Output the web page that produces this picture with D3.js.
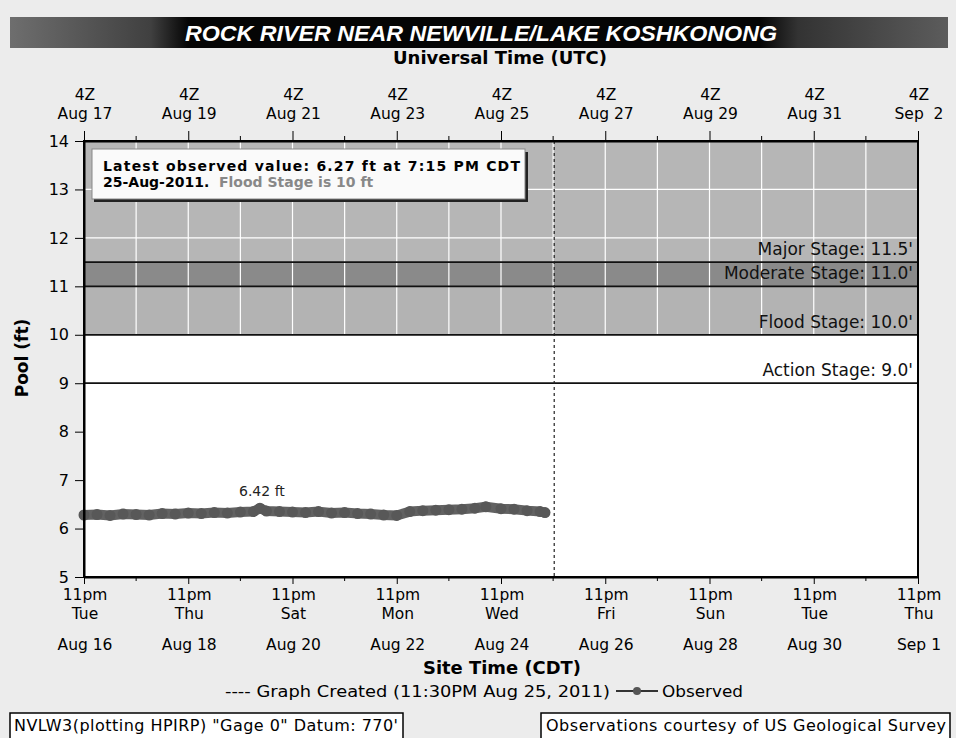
<!DOCTYPE html>
<html>
<head>
<meta charset="utf-8">
<script src="https://cdn.jsdelivr.net/npm/d3@7"></script>
<style>
body { margin: 0; background: #ececec; }
svg { display: block; font-family: 'DejaVu Sans', Verdana, sans-serif; }
</style>
</head>
<body>
<svg id="chart" width="956" height="738"></svg>
<script>
// observed pool (ft), site time CDT
var obsTimes = ['08-16 23:00','08-17 05:00','08-17 11:00','08-17 17:00','08-17 23:00',
	'08-18 05:00','08-18 11:00','08-18 17:00','08-18 23:00','08-19 05:00','08-19 11:00',
	'08-19 17:00','08-19 23:00','08-20 05:00','08-20 08:00','08-20 11:00','08-20 17:00',
	'08-20 23:00','08-21 05:00','08-21 11:00','08-21 17:00','08-21 23:00','08-22 05:00',
	'08-22 11:00','08-22 17:00','08-22 23:00','08-23 05:00','08-23 11:00','08-23 17:00',
	'08-23 23:00','08-24 05:00','08-24 11:00','08-24 16:00','08-24 23:00','08-25 05:00',
	'08-25 11:00','08-25 17:00','08-25 19:15'];
var obsValues = [6.28,6.29,6.27,6.30,6.29,6.28,6.31,6.30,6.32,6.31,6.33,6.32,6.34,6.35,6.42,
	6.36,6.35,6.34,6.33,6.35,6.32,6.33,6.31,6.30,6.28,6.27,6.35,6.37,6.38,6.39,6.40,6.42,
	6.45,6.41,6.40,6.37,6.35,6.33];

var stageLevels = [9, 10, 11, 11.5];
var stageNames = ["Action Stage: 9.0'", "Flood Stage: 10.0'", "Moderate Stage: 11.0'", "Major Stage: 11.5'"];
var bandLow = [10, 11, 11.5];
var bandHigh = [11, 11.5, 14];
var bandFill = ['#b3b3b3', '#8a8a8a', '#b6b6b6'];

var botHour = ['11pm','11pm','11pm','11pm','11pm','11pm','11pm','11pm','11pm'];
var botDay = ['Tue','Thu','Sat','Mon','Wed','Fri','Sun','Tue','Thu'];
var botDate = ['Aug 16','Aug 18','Aug 20','Aug 22','Aug 24','Aug 26','Aug 28','Aug 30','Sep 1'];
var topHour = ['4Z','4Z','4Z','4Z','4Z','4Z','4Z','4Z','4Z'];
var topDate = ['Aug 17','Aug 19','Aug 21','Aug 23','Aug 25','Aug 27','Aug 29','Aug 31','Sep  2'];

var parse = d3.utcParse('%m-%d %H:%M %Y');
var t = function (s) { return parse(s + ' 2011'); };

var x0 = 84, x1 = 918, y0 = 141, y1 = 577;
var start = t('08-16 23:00');
var created = t('08-25 23:30');

var x = d3.scaleUtc().domain([start, t('09-01 23:00')]).range([x0, x1]);
var y = d3.scaleLinear().domain([5, 14]).range([y1, y0]);

var majors = d3.range(9).map(function (i) { return d3.utcDay.offset(start, i*2); });
var days = d3.range(17).map(function (i) { return d3.utcDay.offset(start, i); });
var minors = days.filter(function (d,i) { return i % 2 == 1; });

var svg = d3.select('#chart');

// title bar
var grad = svg.append('defs').append('linearGradient').attr('id', 'tbar');
[[0,'#6e6e6e'],[0.15,'#404040'],[0.19,'#050505'],[0.8,'#050505'],[0.84,'#333'],[1,'#5c5c5c']]
	.forEach(function (s) { grad.append('stop').attr('offset', s[0]).attr('stop-color', s[1]); });
svg.append('rect').attr('x', 10).attr('y', 17).attr('width', 938).attr('height', 31).attr('fill', 'url(#tbar)');
svg.append('text').attr('x', 481).attr('y', 41).attr('text-anchor', 'middle')
	.attr('font-family', "'Liberation Sans', Arial, sans-serif").attr('font-weight', 'bold')
	.attr('font-style', 'italic').attr('font-size', 22).attr('fill', '#fff')
	.attr('textLength', 592).attr('lengthAdjust', 'spacingAndGlyphs')
	.text('ROCK RIVER NEAR NEWVILLE/LAKE KOSHKONONG');
svg.append('text').attr('x', 500).attr('y', 64).attr('text-anchor', 'middle')
	.attr('font-weight', 'bold').attr('font-size', 17)
	.attr('textLength', 214).attr('lengthAdjust', 'spacingAndGlyphs').text('Universal Time (UTC)');

// plot area
svg.append('rect').attr('x', x0).attr('y', y0).attr('width', x1-x0).attr('height', y1-y0).attr('fill', '#fff');

svg.selectAll('.band').data(bandLow).enter().append('rect')
	.attr('x', x0).attr('width', x1-x0)
	.attr('y', function (d,i) { return y(bandHigh[i]); })
	.attr('height', function (d,i) { return y(d) - y(bandHigh[i]); })
	.attr('fill', function (d,i) { return bandFill[i]; });

// white grid inside the shaded zones
svg.selectAll('.vgrid').data(days.slice(1, -1)).enter().append('line')
	.attr('x1', function (d) { return x(d); }).attr('x2', function (d) { return x(d); })
	.attr('y1', y(14)).attr('y2', y(10)).attr('stroke', '#fff').attr('stroke-width', 1.2);
svg.selectAll('.hgrid').data([12, 13]).enter().append('line')
	.attr('x1', x0).attr('x2', x1).attr('y1', function (d) { return y(d); }).attr('y2', function (d) { return y(d); })
	.attr('stroke', '#fff').attr('stroke-width', 1.2);

svg.selectAll('.stage').data(stageLevels).enter().append('line')
	.attr('x1', x0).attr('x2', x1).attr('y1', function (d) { return y(d); }).attr('y2', function (d) { return y(d); })
	.attr('stroke', '#111').attr('stroke-width', 1.8);
svg.selectAll('.stagetext').data(stageLevels).enter().append('text')
	.attr('x', 913).attr('y', function (d) { return y(d) - 7; })
	.attr('text-anchor', 'end').attr('font-size', 17).attr('fill', '#111')
	.text(function (d,i) { return stageNames[i]; });

// latest value box
svg.append('rect').attr('x', 94).attr('y', 152).attr('width', 434).attr('height', 50).attr('fill', '#222');
svg.append('rect').attr('x', 92).attr('y', 149).attr('width', 433).attr('height', 50)
	.attr('fill', '#fafafa').attr('stroke', '#888').attr('stroke-width', 1);
svg.append('text').attr('x', 103).attr('y', 171).attr('font-weight', 'bold').attr('font-size', 14)
	.attr('textLength', 417).attr('lengthAdjust', 'spacing')
	.text('Latest observed value: 6.27 ft at 7:15 PM CDT');
var l2 = svg.append('text').attr('x', 103).attr('y', 187).attr('font-weight', 'bold').attr('font-size', 14)
	.style('white-space', 'pre');
l2.append('tspan').text('25-Aug-2011.  ');
l2.append('tspan').attr('fill', '#888').text('Flood Stage is 10 ft');

// observed series
var line = d3.line().x(function (d,i) { return x(t(obsTimes[i])); }).y(function (d) { return y(d); });
svg.append('path').datum(obsValues).attr('d', line).attr('fill', 'none')
	.attr('stroke', '#626262').attr('stroke-width', 10).attr('stroke-linejoin', 'round').attr('stroke-linecap', 'round');
svg.selectAll('.obs').data(obsValues).enter().append('circle')
	.attr('cx', function (d,i) { return x(t(obsTimes[i])); }).attr('cy', function (d) { return y(d); })
	.attr('r', 5.5).attr('fill', '#585858');
svg.append('text').attr('x', x(t('08-20 08:00')) + 2).attr('y', y(6.42) - 12)
	.attr('text-anchor', 'middle').attr('font-size', 14).attr('fill', '#222').text('6.42 ft');

// graph created marker
svg.append('line').attr('x1', x(created)).attr('x2', x(created)).attr('y1', y0).attr('y2', y1)
	.attr('stroke', '#222').attr('stroke-width', 1.2).attr('stroke-dasharray', '3,3');

svg.append('rect').attr('x', x0).attr('y', y0).attr('width', x1-x0).attr('height', y1-y0)
	.attr('fill', 'none').attr('stroke', '#000').attr('stroke-width', 2);

// axes
var yAxis = svg.append('g').attr('transform', 'translate(' + x0 + ',0)')
	.call(d3.axisLeft(y).tickValues(d3.range(5, 15)).tickSize(9).tickSizeOuter(0).tickPadding(6));
yAxis.selectAll('text').attr('font-size', 16).attr('font-family', "'DejaVu Sans', sans-serif").attr('fill', '#000');

var botAx = svg.append('g').attr('transform', 'translate(0,' + y1 + ')');
botAx.call(d3.axisBottom(x).tickValues(majors).tickSize(7).tickSizeOuter(0).tickFormat(''));
botAx.selectAll('.minor').data(minors).enter().append('line')
	.attr('x1', function (d) { return x(d); }).attr('x2', function (d) { return x(d); })
	.attr('y1', 0).attr('y2', 4).attr('stroke', '#000');

var topAx = svg.append('g').attr('transform', 'translate(0,' + y0 + ')');
topAx.call(d3.axisTop(x).tickValues(majors).tickSize(10).tickSizeOuter(0).tickFormat(''));
topAx.selectAll('.minor').data(minors).enter().append('line')
	.attr('x1', function (d) { return x(d); }).attr('x2', function (d) { return x(d); })
	.attr('y1', 0).attr('y2', -5).attr('stroke', '#000');
svg.selectAll('.domain').attr('stroke-width', 2);

var rows = [[botHour, 600], [botDay, 619], [botDate, 650], [topHour, 100], [topDate, 119]];
rows.forEach(function (r) {
	svg.append('g').selectAll('text').data(majors).enter().append('text')
		.attr('x', function (d) { return x(d) + 1; }).attr('y', r[1])
		.attr('text-anchor', 'middle').attr('font-size', 15.5).style('white-space', 'pre')
		.text(function (d,i) { return r[0][i]; });
});

svg.append('text').attr('x', 502).attr('y', 674).attr('text-anchor', 'middle')
	.attr('font-weight', 'bold').attr('font-size', 17)
	.attr('textLength', 158).attr('lengthAdjust', 'spacingAndGlyphs').text('Site Time (CDT)');
svg.append('text').attr('transform', 'translate(28,358) rotate(-90)').attr('text-anchor', 'middle')
	.attr('font-weight', 'bold').attr('font-size', 17).text('Pool (ft)');

// legend
svg.append('text').attr('x', 225).attr('y', 697).attr('font-size', 16)
	.attr('textLength', 385).attr('lengthAdjust', 'spacingAndGlyphs')
	.text('---- Graph Created (11:30PM Aug 25, 2011)');
var lx = 616;
svg.append('line').attr('x1', lx).attr('x2', lx + 42).attr('y1', 691).attr('y2', 691).attr('stroke', '#333').attr('stroke-width', 2);
svg.append('circle').attr('cx', lx + 21).attr('cy', 691).attr('r', 4).attr('fill', '#555');
svg.append('text').attr('x', 662).attr('y', 697).attr('font-size', 16)
	.attr('textLength', 81).attr('lengthAdjust', 'spacingAndGlyphs').text('Observed');

// footer
svg.append('rect').attr('x', 10).attr('y', 713).attr('width', 393).attr('height', 40)
	.attr('fill', '#fff').attr('stroke', '#000').attr('stroke-width', 1.5);
svg.append('text').attr('x', 14).attr('y', 731).attr('font-size', 16)
	.attr('textLength', 384).attr('lengthAdjust', 'spacing')
	.text('NVLW3(plotting HPIRP) "Gage 0" Datum: 770\'');
svg.append('rect').attr('x', 541).attr('y', 713).attr('width', 409).attr('height', 40)
	.attr('fill', '#fff').attr('stroke', '#000').attr('stroke-width', 1.5);
svg.append('text').attr('x', 546).attr('y', 731).attr('font-size', 16)
	.attr('textLength', 400).attr('lengthAdjust', 'spacing')
	.text('Observations courtesy of US Geological Survey');
</script>
</body>
</html>
